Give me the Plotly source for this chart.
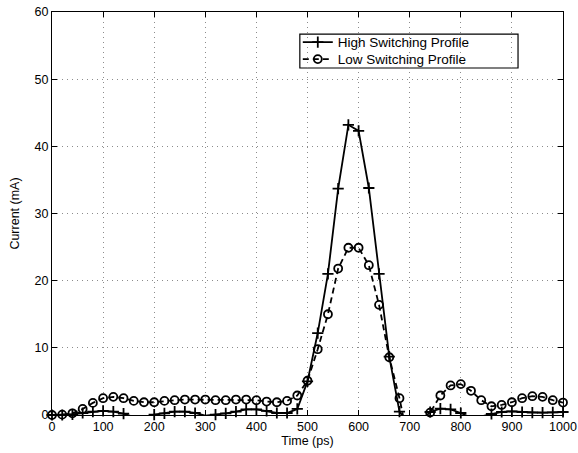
import plotly.graph_objects as go

time_ps = [0, 20, 40, 60, 80, 100, 120, 140, 160, 180, 200, 220, 240, 260, 280, 300,
           320, 340, 360, 380, 400, 420, 440, 460, 480, 500, 520, 540, 560, 580, 600,
           620, 640, 660, 680, 700, 720, 740, 760, 780, 800, 820, 840, 860, 880, 900,
           920, 940, 960, 980, 1000]

high_switching = [0.0, 0.0, 0.1, 0.3, 0.5, 0.6, 0.5, 0.2, -0.3, -0.3, 0.05, 0.25, 0.5, 0.5,
                  0.3, -0.1, 0.05, 0.25, 0.5, 0.85, 0.85, 0.6, 0.3, 0.3, 0.9, 5.0, 12.2,
                  21.0, 33.7, 43.2, 42.3, 33.8, 21.0, 8.7, 0.5, -1.5, -1.0, 0.45, 0.95,
                  0.85, 0.3, -0.4, -0.2, 0.15, 0.45, 0.55, 0.45, 0.35, 0.35, 0.4, 0.45]

low_switching = [0.0, 0.05, 0.25, 0.9, 1.8, 2.5, 2.7, 2.5, 2.1, 1.9, 1.9, 2.1, 2.2, 2.3,
                 2.3, 2.3, 2.2, 2.2, 2.3, 2.3, 2.2, 2.0, 1.9, 2.1, 2.9, 5.1, 9.8, 15.0,
                 21.8, 24.9, 24.9, 22.3, 16.4, 8.6, 2.5, -5.0, -2.5, 0.35, 2.9, 4.4, 4.6,
                 3.6, 2.2, 1.3, 1.5, 1.9, 2.5, 2.8, 2.7, 2.2, 1.85]

x_ticks = [0, 100, 200, 300, 400, 500, 600, 700, 800, 900, 1000]
y_ticks = [0, 10, 20, 30, 40, 50, 60]

FONT = "Liberation Sans, Arial, Helvetica, sans-serif"
BLACK = "black"


def visible(vals):
    return [v if v >= 0 else None for v in vals]


cross_marker = dict(symbol="cross-thin-open", size=8, color=BLACK,
                    line=dict(color=BLACK, width=1.8))
circle_marker = dict(symbol="circle-open", size=8, color=BLACK,
                     line=dict(color=BLACK, width=1.8))

fig = go.Figure()

# lines (clipped to the axes)
fig.add_trace(go.Scatter(x=time_ps, y=high_switching, mode="lines",
                         line=dict(color=BLACK, width=1.8), showlegend=False,
                         hoverinfo="skip"))
fig.add_trace(go.Scatter(x=time_ps, y=low_switching, mode="lines",
                         line=dict(color=BLACK, width=1.8, dash="6px,4px"),
                         showlegend=False, hoverinfo="skip"))
# markers
fig.add_trace(go.Scatter(x=time_ps, y=visible(high_switching), mode="markers",
                         marker=cross_marker, showlegend=False, cliponaxis=False))
fig.add_trace(go.Scatter(x=time_ps, y=visible(low_switching), mode="markers",
                         marker=circle_marker, showlegend=False, cliponaxis=False))
# legend entries
fig.add_trace(go.Scatter(x=[None], y=[None], mode="lines+markers",
                         name="High Switching Profile", legend="legend",
                         line=dict(color=BLACK, width=1.8), marker=cross_marker))
fig.add_trace(go.Scatter(x=[None], y=[None], mode="lines+markers",
                         name="Low Switching Profile", legend="legend2",
                         line=dict(color=BLACK, width=1.8, dash="6px,4px"),
                         marker=circle_marker))

axis_common = dict(
    showline=True, linecolor=BLACK, linewidth=1, mirror="allticks",
    ticks="inside", ticklen=5, tickwidth=1, tickcolor=BLACK,
    showgrid=True, gridcolor="#8c8c8c", griddash="1px,4px", gridwidth=1,
    zeroline=False, tickfont=dict(family=FONT, size=12.5, color=BLACK),
    automargin=False,
)

fig.update_xaxes(range=[0, 1000], tickvals=x_ticks,
                 title=dict(text="Time (ps)", font=dict(family=FONT, size=12.5, color=BLACK),
                            standoff=2),
                 **axis_common)
fig.update_yaxes(range=[0, 60], tickvals=y_ticks,
                 title=dict(text="Current (mA)", font=dict(family=FONT, size=12.5, color=BLACK),
                            standoff=12),
                 **axis_common)

fig.add_shape(type="rect", xref="paper", yref="paper",
              x0=0.485, x1=0.912, y0=0.861, y1=0.945,
              line=dict(color=BLACK, width=1.2), fillcolor="white", layer="between")

legend_style = dict(xanchor="left", yanchor="top", bgcolor="rgba(0,0,0,0)",
                    borderwidth=0, font=dict(family=FONT, size=13.5, color=BLACK),
                    itemwidth=30, tracegroupgap=0)

fig.update_layout(
    width=578, height=453,
    margin=dict(l=52, r=15, t=12, b=38),
    paper_bgcolor="white", plot_bgcolor="white",
    font=dict(family=FONT, size=12.5, color=BLACK),
    legend=dict(x=0.481, y=0.963, **legend_style),
    legend2=dict(x=0.481, y=0.921, **legend_style),
    showlegend=True,
)

fig.write_html("out.html", config={"displayModeBar": False},
               post_script="document.body.style.margin='0px';")
